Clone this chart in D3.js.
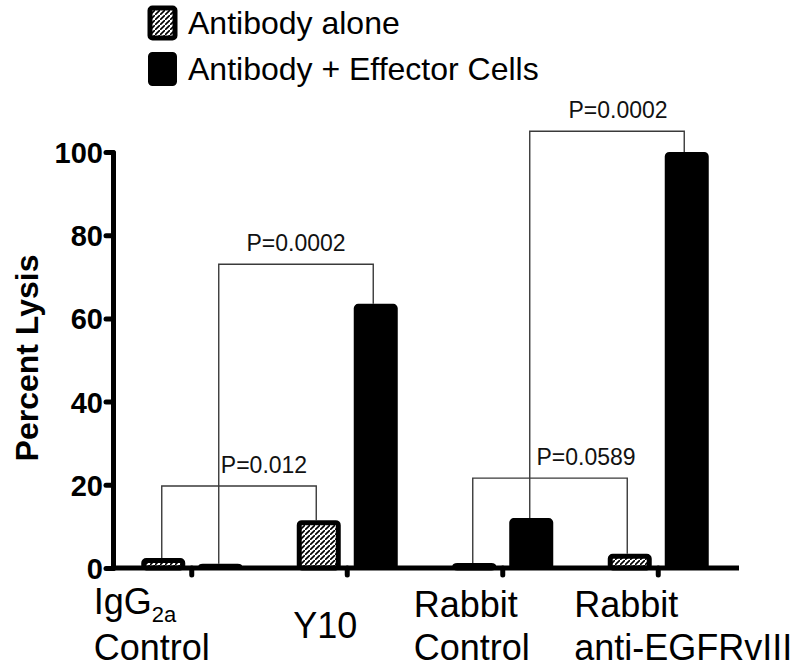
<!DOCTYPE html>
<html>
<head>
<meta charset="utf-8">
<script src="https://cdn.jsdelivr.net/npm/d3@7"></script>
<style>
  html, body { margin: 0; padding: 0; background: #fff; }
  svg { display: block; font-family: "Liberation Sans", Arial, Helvetica, sans-serif; }
</style>
</head>
<body>
<svg id="chart" width="800" height="671"></svg>
<script>
// ---------------- data ----------------
const groups = ["IgG2a Control", "Y10", "Rabbit Control", "Rabbit anti-EGFRvIII"];
const series = ["Antibody alone", "Antibody + Effector Cells"];
const antibodyAlone = [2.4, 11.5, 1.2, 3.4];
const antibodyEffector = [1.0, 63.5, 12.0, 100];
const yTicks = [0, 20, 40, 60, 80, 100];
const yTitle = "Percent Lysis";
// comparisons: [group, series] -> [group, series], bracket height, label
const compFrom = [[0, 0], [0, 1], [2, 0], [2, 1]];
const compTo   = [[1, 0], [1, 1], [3, 0], [3, 1]];
const compLevel = [19.7, 73, 21.6, 105];
const compLabel = ["P=0.012", "P=0.0002", "P=0.0589", "P=0.0002"];

// ---------------- layout ----------------
const svg = d3.select("#chart");
const y = d3.scaleLinear().domain([0, 100]).range([568, 152]);
const x = d3.scaleBand().domain(groups).range([114, 736]).padding(0);
const xs = d3.scaleBand().domain(series).range([-50.5, 50.5]).paddingInner(0.228);
const values = [antibodyAlone, antibodyEffector];

const defs = svg.append("defs");
const pat = defs.append("pattern").attr("id", "hatch")
  .attr("patternUnits", "userSpaceOnUse").attr("width", 5).attr("height", 5);
pat.append("rect").attr("width", 5).attr("height", 5).attr("fill", "#fff");
pat.append("path").attr("d", "M-1,6 L6,-1 M-2,1 L1,-2 M4,7 L7,4")
  .attr("stroke", "#000").attr("stroke-width", 1.6);

const fills = ["url(#hatch)", "#000"];
const barX = (g, s) => x(groups[g]) + x.bandwidth() / 2 + xs(series[s]);
const barCx = (g, s) => barX(g, s) + xs.bandwidth() / 2;

// brackets (behind bars)
const bk = svg.append("g");
const labelDx = [25, 0, 36, 11];
compFrom.forEach((f, i) => {
  const t = compTo[i];
  const x1 = barCx(f[0], f[1]) - 1.5, x2 = barCx(t[0], t[1]) - 2.5;
  const yl = y(compLevel[i]);
  const y1 = y(values[f[1]][f[0]]), y2 = y(values[t[1]][t[0]]);
  bk.append("path")
    .attr("d", `M${x1},${y1} V${yl} H${x2} V${y2}`)
    .attr("fill", "none").attr("stroke", "#3a3a3a").attr("stroke-width", 1.4);
  bk.append("text").attr("x", (x1 + x2) / 2 + labelDx[i]).attr("y", yl - 13)
    .attr("text-anchor", "middle").attr("font-size", 23).attr("fill", "#111")
    .text(compLabel[i]);
});

// bars
series.forEach((s, si) => {
  const sw = si === 0 ? 5 : 4;
  svg.append("g").selectAll("rect").data(values[si]).join("rect")
    .attr("x", (d, gi) => barX(gi, si) + sw / 2)
    .attr("y", d => y(d) + sw / 2)
    .attr("width", xs.bandwidth() - sw)
    .attr("height", d => Math.max(0.5, y(0) - y(d) - sw / 2))
    .attr("rx", 2.5)
    .attr("fill", fills[si]).attr("stroke", "#000").attr("stroke-width", sw);
});

// y axis
const yAxis = svg.append("g").attr("transform", "translate(113,0)")
  .call(d3.axisLeft(y).tickValues(yTicks).tickSize(7).tickSizeOuter(0).tickPadding(3));
yAxis.select(".domain").attr("stroke-width", 5).attr("stroke-linecap", "round");
yAxis.selectAll(".tick line").attr("stroke-width", 5).attr("stroke-linecap", "round");
yAxis.selectAll(".tick text").attr("font-size", 29).attr("font-weight", "bold")
  .attr("font-family", "'Liberation Sans', Arial, sans-serif").attr("dy", "0.36em");

// x axis
const xAxis = svg.append("g").attr("transform", "translate(0,568)")
  .call(d3.axisBottom(x).tickSize(7).tickSizeOuter(0).tickFormat(""));
xAxis.select(".domain").attr("d", "M111,0H739").attr("stroke-width", 5);
xAxis.selectAll(".tick line").attr("stroke-width", 5).attr("stroke-linecap", "round");

// x labels
const lab = svg.append("g").attr("font-size", 36).attr("fill", "#000");
const labelStart = [-98, -54, -89, -84];
groups.forEach((g, i) => {
  const cx = x(g) + x.bandwidth() / 2 + labelStart[i];
  if (i === 0) {
    const t = lab.append("text").attr("x", cx).attr("y", 614);
    t.append("tspan").text("IgG");
    t.append("tspan").attr("font-size", 22).attr("dy", 8).text("2a");
    lab.append("text").attr("x", cx).attr("y", 660).text("Control");
  } else if (i === 1) {
    lab.append("text").attr("x", cx).attr("y", 638).text(g);
  } else {
    const parts = i === 2 ? ["Rabbit", "Control"] : ["Rabbit", "anti-EGFRvIII"];
    lab.append("text").attr("x", cx).attr("y", 617).text(parts[0]);
    lab.append("text").attr("x", cx).attr("y", 660).text(parts[1]);
  }
});

// y title
svg.append("text").attr("transform", "translate(38,358) rotate(-90)")
  .attr("text-anchor", "middle").attr("font-size", 32).attr("font-weight", "bold")
  .text(yTitle);

// legend
const leg = svg.append("g");
series.forEach((s, i) => {
  const yy = 7 + i * 46;
  leg.append("rect").attr("x", 150).attr("y", yy + 1).attr("width", 25).attr("height", 30)
    .attr("rx", 2.5).attr("fill", fills[i]).attr("stroke", "#000").attr("stroke-width", i === 0 ? 5 : 4);
  leg.append("text").attr("x", 188).attr("y", yy + 27).attr("font-size", 32).text(s);
});
</script>
</body>
</html>
